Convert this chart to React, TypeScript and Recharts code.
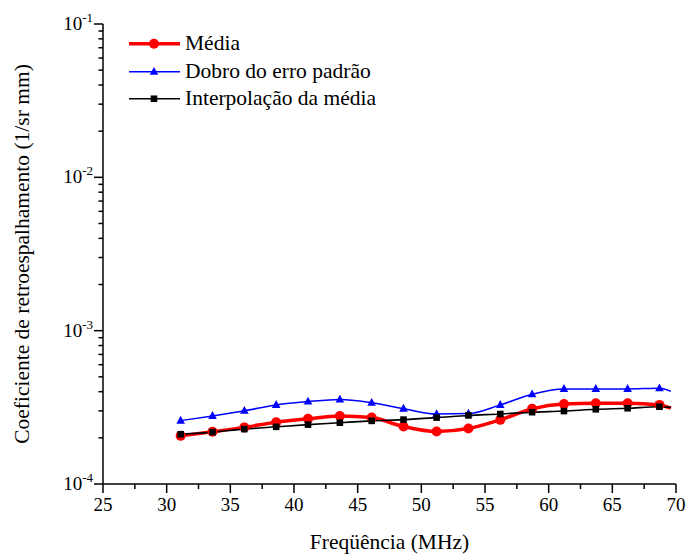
import React from 'react';
import { LineChart, Line, XAxis, YAxis, Legend } from 'recharts';

// values (log y axis)
const freq = [31.1, 33.6, 36.1, 38.6, 41.1, 43.6, 46.1, 48.6, 51.2, 53.7, 56.2, 58.7, 61.2, 63.7, 66.2, 68.7, 69.6];
const media = [2.06e-4, 2.19e-4, 2.34e-4, 2.53e-4, 2.66e-4, 2.78e-4, 2.71e-4, 2.37e-4, 2.2e-4, 2.3e-4, 2.62e-4, 3.09e-4, 3.32e-4, 3.36e-4, 3.36e-4, 3.28e-4, 3.12e-4];
const dobroErro = [2.59e-4, 2.78e-4, 3.0e-4, 3.28e-4, 3.45e-4, 3.56e-4, 3.39e-4, 3.1e-4, 2.86e-4, 2.88e-4, 3.28e-4, 3.85e-4, 4.17e-4, 4.17e-4, 4.17e-4, 4.21e-4, 4.02e-4];
const interpolacao = [2.11e-4, 2.18e-4, 2.28e-4, 2.36e-4, 2.44e-4, 2.51e-4, 2.58e-4, 2.63e-4, 2.71e-4, 2.8e-4, 2.86e-4, 2.94e-4, 2.99e-4, 3.07e-4, 3.12e-4, 3.19e-4, 3.16e-4];
// the last point only carries the curve end, no marker
const markerCount = 16;

const xTicks = [25, 27.5, 30, 32.5, 35, 37.5, 40, 42.5, 45, 47.5, 50, 52.5, 55, 57.5, 60, 62.5, 65, 67.5, 70];
const decades = [1e-4, 1e-3, 1e-2];
const yTicks = [...decades.flatMap((d) => [1, 2, 3, 4, 5, 6, 7, 8, 9].map((m) => m * d)), 1e-1];

const FONT = "'Liberation Serif', 'DejaVu Serif', serif";

const data = freq.map((f, i) => ({
  freq: f,
  media: media[i],
  dobro: dobroErro[i],
  interp: interpolacao[i],
}));

type Marker = 'circle' | 'triangle' | 'square';

const series = [
  { key: 'media', name: 'Média', color: '#ff0000', width: 3.5, marker: 'circle' as Marker },
  { key: 'dobro', name: 'Dobro do erro padrão', color: '#0000ff', width: 1.5, marker: 'triangle' as Marker },
  { key: 'interp', name: 'Interpolação da média', color: '#000000', width: 1.6, marker: 'square' as Marker },
];

function drawMarker(marker: Marker, cx: number, cy: number, color: string, key?: string | number) {
  if (marker === 'circle') return <circle key={key} cx={cx} cy={cy} r={5} fill={color} stroke="none" />;
  if (marker === 'triangle')
    return <polygon key={key} points={`${cx},${cy - 4.8} ${cx - 4.3},${cy + 3} ${cx + 4.3},${cy + 3}`} fill={color} />;
  return <rect key={key} x={cx - 3.3} y={cy - 3.3} width={6.6} height={6.6} fill={color} />;
}

const makeDot = (marker: Marker, color: string) => (props: any) => {
  const { cx, cy, index } = props;
  if (index >= markerCount || cx == null || cy == null) return <g key={`e-${index}`} />;
  return drawMarker(marker, cx, cy, color, `d-${index}`);
};

function XTick(props: any) {
  const { x, y, payload } = props;
  const v = payload.value as number;
  const major = v % 5 === 0;
  return (
    <g>
      <line x1={x} x2={x} y1={y} y2={y + (major ? 9 : 5)} stroke="#000" strokeWidth={1.5} />
      {major && (
        <text x={x} y={y + 27} textAnchor="middle" fontSize={19} fontFamily={FONT} fill="#000">
          {v}
        </text>
      )}
    </g>
  );
}

function YTick(props: any) {
  const { x, y, payload } = props;
  const v = payload.value as number;
  const exp = Math.round(Math.log10(v));
  const major = Math.abs(Math.log10(v) - exp) < 1e-9;
  return (
    <g>
      <line x1={x - (major ? 9 : 4.5)} x2={x} y1={y} y2={y} stroke="#000" strokeWidth={1.5} />
      {major && (
        <text x={x - 10} y={y + 6} textAnchor="end" fontSize={19} fontFamily={FONT} fill="#000">
          <tspan>10</tspan>
          <tspan dy={-8} fontSize={13}>{exp}</tspan>
        </text>
      )}
    </g>
  );
}

function LegendBox() {
  return (
    <div style={{ fontFamily: FONT, fontSize: 21.5, color: '#000' }}>
      {series.map((s) => (
        <div key={s.key} style={{ display: 'flex', alignItems: 'center', height: 27.5 }}>
          <svg width={58} height={27.5} style={{ display: 'block' }}>
            <line x1={2} x2={53} y1={13.75} y2={13.75} stroke={s.color} strokeWidth={s.width} />
            {drawMarker(s.marker, 27, 13.75, s.color)}
          </svg>
          <span style={{ whiteSpace: 'nowrap', lineHeight: '27.5px' }}>{s.name}</span>
        </div>
      ))}
    </div>
  );
}

export default function App() {
  return (
    <div style={{ position: 'absolute', left: 0, top: 0, width: 687, height: 554, background: '#fff' }}>
      <LineChart width={687} height={554} data={data} margin={{ top: 24, right: 11, bottom: 0, left: 23 }}>
        <XAxis
          dataKey="freq"
          type="number"
          domain={[25, 70]}
          ticks={xTicks}
          interval={0}
          tickSize={0}
          tickMargin={0}
          tick={<XTick />}
          axisLine={{ stroke: '#000', strokeWidth: 1.5 }}
          height={70}
          label={(p: any) => {
            const vb = p.viewBox;
            return (
              <text x={vb.x + vb.width / 2} y={vb.y + 65} textAnchor="middle" fontSize={21.5} fontFamily={FONT} fill="#000">
                Freqüência (MHz)
              </text>
            );
          }}
        />
        <YAxis
          type="number"
          scale="log"
          domain={[1e-4, 1e-1]}
          allowDataOverflow
          ticks={yTicks}
          interval={0}
          tickSize={0}
          tickMargin={0}
          tick={<YTick />}
          axisLine={{ stroke: '#000', strokeWidth: 1.5 }}
          width={80}
          label={(p: any) => {
            const vb = p.viewBox;
            const cy = vb.y + vb.height / 2;
            return (
              <text x={29} y={cy} transform={`rotate(-90, 29, ${cy})`} textAnchor="middle" fontSize={21.5} fontFamily={FONT} fill="#000">
                Coeficiente de retroespalhamento (1/sr mm)
              </text>
            );
          }}
        />
        <Legend
          layout="vertical"
          align="center"
          verticalAlign="middle"
          content={() => <LegendBox />}
          wrapperStyle={{ top: 30, left: 127, width: 320, height: 90 }}
        />
        {series.map((s) => (
          <Line
            key={s.key}
            dataKey={s.key}
            name={s.name}
            type="monotone"
            stroke={s.color}
            strokeWidth={s.width}
            dot={makeDot(s.marker, s.color)}
            activeDot={false}
            isAnimationActive={false}
          />
        ))}
      </LineChart>
    </div>
  );
}
